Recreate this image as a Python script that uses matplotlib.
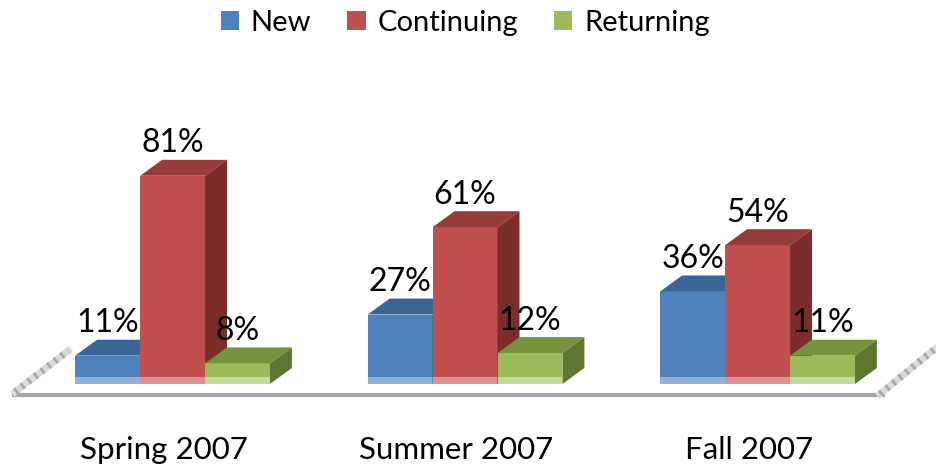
import matplotlib.pyplot as plt
import numpy as np
from matplotlib.patches import Polygon, Rectangle

# Student status by term (percent)
periods = ["Spring 2007", "Summer 2007", "Fall 2007"]
series = ["New", "Continuing", "Returning"]
new = [11, 27, 36]
continuing = [81, 61, 54]
returning = [8, 12, 11]
values = [new, continuing, returning]

front = ["#4F81BD", "#C0504D", "#9BBB59"]
top = ["#3C6596", "#953B39", "#77923F"]
side = ["#2F4F78", "#7A2D2B", "#5F7632"]
light = ["#92B2DA", "#DB9290", "#C4DA9C"]

plt.rcParams['font.family'] = ['Lato', 'DejaVu Sans']

fig = plt.figure(figsize=(9.36, 4.70), dpi=100)
ax = fig.add_axes([0, 0, 1, 1])
ax.set_xlim(-0.590, 2.610)
ax.set_ylim(-33.5, 149.4)
ax.axis('off')


def px(xp, yp):
    # pixel position (from top-left) -> data coords, for floor decoration only
    return (xp - 172.5) / 292.5, (384 - yp) / 2.57


w = 0.222           # bar width
dx, dy = 0.075, 6.2  # 3D depth offset
strip = 2.7          # light reflection strip at bar bottom
x = np.arange(len(periods))

# floor
x0, y0 = px(12, 395)
x1, y1 = px(885, 395)
ax.plot([x0, x1], [y0, y0], color="#a6a6a6", lw=3, solid_capstyle='butt', zorder=1)
for (a, b) in [((15, 392), (68, 351)), ((880, 394), (936, 348))]:
    pa, pb = px(*a), px(*b)
    ax.plot([pa[0], pb[0]], [pa[1], pb[1]], color="#dadada", lw=5, zorder=1)
    ax.plot([pa[0], pb[0]], [pa[1], pb[1]], color="#a8a8a8", lw=5,
            dashes=(0.4, 0.8), zorder=1)

z = 2
for g in range(len(periods)):
    for s in range(len(series)):
        v = values[s][g]
        left = x[g] + (s - 1) * w - w / 2
        right = left + w
        ax.add_patch(Rectangle((left, strip), w, v - strip, facecolor=front[s],
                               edgecolor='none', zorder=z))
        ax.add_patch(Rectangle((left, 0), w, strip, facecolor=light[s],
                               edgecolor='none', zorder=z))
        ax.add_patch(Polygon([(left, v), (right, v), (right + dx, v + dy), (left + dx, v + dy)],
                             closed=True, facecolor=top[s], edgecolor='none', zorder=z))
        ax.add_patch(Polygon([(right, 0), (right + dx, dy), (right + dx, v + dy), (right, v)],
                             closed=True, facecolor=side[s], edgecolor='none', zorder=z))
        ax.text(left + w / 2, v + dy + 0.6, f"{v}%", ha='center', va='bottom',
                fontsize=23, color='black', zorder=20)
        z += 1

for g, name in enumerate(periods):
    ax.text(x[g] - 0.03, -25.7, name, ha='center', va='center', fontsize=22.5)

handles = [Rectangle((0, 0), 1, 1, facecolor=c, edgecolor='none') for c in front]
fig.legend(handles, series, loc='center', bbox_to_anchor=(0.497, 0.952), ncol=3,
           frameon=False, fontsize=21, handlelength=0.62, handleheight=0.62,
           handletextpad=0.4, columnspacing=1.25, borderaxespad=0)

fig.savefig("out.png", dpi=100)
